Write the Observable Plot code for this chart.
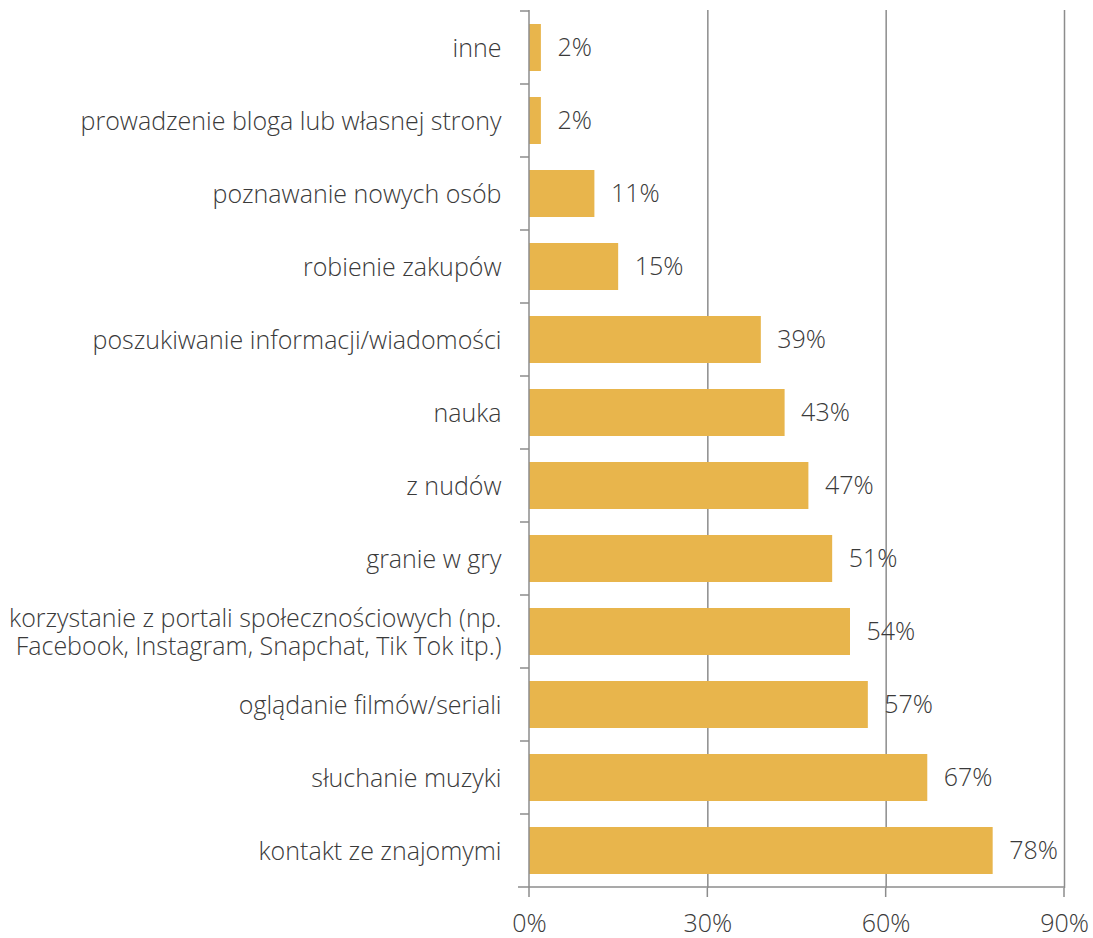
<!DOCTYPE html>
<html>
<head>
<meta charset="utf-8">
<script src="https://cdn.jsdelivr.net/npm/d3@7"></script>
<script src="https://cdn.jsdelivr.net/npm/@observablehq/plot@0.6"></script>
<style>
  html, body { margin: 0; padding: 0; background: #fff; }
  #chart svg { display: block; }
</style>
</head>
<body>
<div id="chart"></div>
<script>
const categories = [
  "inne",
  "prowadzenie bloga lub własnej strony",
  "poznawanie nowych osób",
  "robienie zakupów",
  "poszukiwanie informacji/wiadomości",
  "nauka",
  "z nudów",
  "granie w gry",
  "korzystanie z portali społecznościowych (np.\nFacebook, Instagram, Snapchat, Tik Tok itp.)",
  "oglądanie filmów/seriali",
  "słuchanie muzyki",
  "kontakt ze znajomymi"
];
const values = [2, 2, 11, 15, 39, 43, 47, 51, 54, 57, 67, 78];
const xTicks = [0, 30, 60, 90];
const gridTicks = [30, 60, 90];

const data = categories.map((c, i) => ({cat: c, value: values[i], label: values[i] + "%"}));

const axisColor = "#8c8c8c";
const textColor = "#3a3a3a";

// custom axis decorations: y axis line, band boundary ticks, bottom axis line
function axisDecor(index, scales, values, dimensions) {
  const y = scales.y, x = scales.x;
  const ns = "http://www.w3.org/2000/svg";
  const g = document.createElementNS(ns, "g");
  const step = y.step();
  const bw = y.bandwidth();
  const x0 = x(0);
  const xEnd = x(90);
  const top = dimensions.marginTop;
  const bottom = dimensions.height - dimensions.marginBottom;
  const line = (x1, y1, x2, y2) => {
    const l = document.createElementNS(ns, "line");
    l.setAttribute("x1", x1); l.setAttribute("y1", y1);
    l.setAttribute("x2", x2); l.setAttribute("y2", y2);
    l.setAttribute("stroke", axisColor);
    l.setAttribute("stroke-width", 1.5);
    g.appendChild(l);
  };
  line(x0, top, x0, bottom);
  const cats = y.domain();
  const bounds = cats.map(c => y(c) + bw / 2 - step / 2);
  bounds.push(y(cats[cats.length - 1]) + bw / 2 + step / 2);
  bounds.forEach((b, i) => {
    if (i === bounds.length - 1) line(x0 - 11, b, xEnd, b);
    else line(x0 - 9, b, x0, b);
  });
  xTicks.forEach(t => line(x(t), bottom, x(t), bottom + 9));
  return g;
}

const plot = Plot.plot({
  width: 1093,
  height: 938,
  marginLeft: 529,
  marginRight: 29,
  marginTop: 10,
  marginBottom: 50,
  style: {fontFamily: "'Open Sans', 'Noto Sans', sans-serif", fontSize: "25px", fontWeight: 300, color: textColor, background: "#fff"},
  x: {domain: [0, 90], ticks: xTicks, tickFormat: d => d + "%", label: null},
  y: {domain: categories, paddingInner: 0.36, paddingOuter: 0.18, axis: null},
  marks: [
    Plot.ruleX(gridTicks, {stroke: axisColor, strokeWidth: 1.5, strokeOpacity: 1}),
    Plot.barX(data, {x: "value", y: "cat", fill: "#E8B54C"}),
    axisDecor,
    Plot.axisX(xTicks, {tickSize: 0, tickPadding: 26, fontSize: 25, fontWeight: 300, fill: textColor, tickFormat: d => d + "%", label: null}),
    Plot.text(data, {y: "cat", text: "cat", frameAnchor: "left", dx: -28, textAnchor: "end", lineHeight: 1.12, fill: textColor, fontSize: 25, fontWeight: 300}),
    Plot.text(data, {x: "value", y: "cat", text: "label", dx: 16, textAnchor: "start", fill: textColor, fontSize: 25, fontWeight: 300})
  ]
});

document.getElementById("chart").appendChild(plot);
</script>
</body>
</html>
